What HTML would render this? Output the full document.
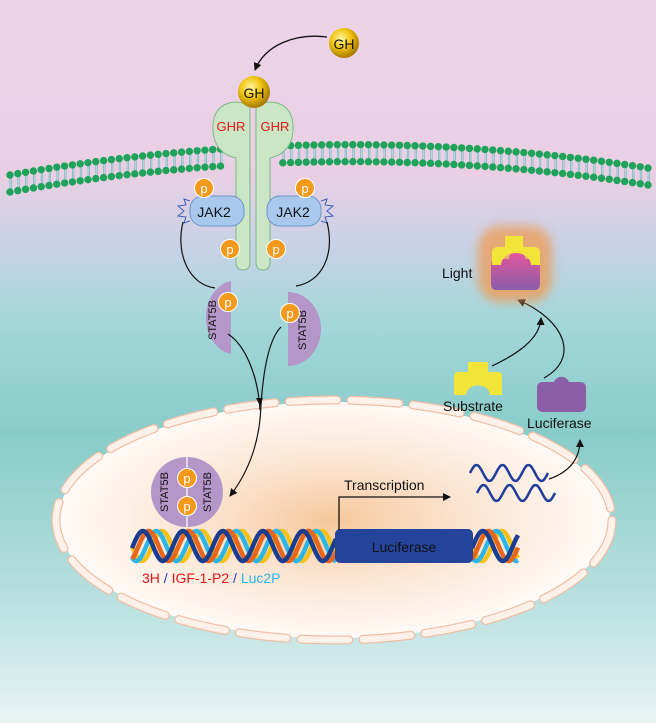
<!DOCTYPE html>
<html><head><meta charset="utf-8"><style>
html,body{margin:0;padding:0}
body{width:656px;height:723px;overflow:hidden;font-family:"Liberation Sans",sans-serif}
svg text{font-family:"Liberation Sans",sans-serif}
</style></head><body>
<svg id="s" width="656" height="723" viewBox="0 0 656 723" xmlns="http://www.w3.org/2000/svg">
<defs>
<linearGradient id="bg" x1="0" y1="0" x2="0" y2="1">
<stop offset="0" stop-color="#ecd4e6"/>
<stop offset="0.24" stop-color="#eacfe4"/>
<stop offset="0.34" stop-color="#c8d2e6"/>
<stop offset="0.44" stop-color="#a5d7da"/>
<stop offset="0.6" stop-color="#88ccc9"/>
<stop offset="0.82" stop-color="#b6dfde"/>
<stop offset="1" stop-color="#e8f4f4"/>
</linearGradient>
<radialGradient id="nuc" cx="0.5" cy="0.5" r="0.5">
<stop offset="0" stop-color="#f6c89c"/>
<stop offset="0.45" stop-color="#fbe3cf"/>
<stop offset="1" stop-color="#fffaf6"/>
</radialGradient>
<radialGradient id="gold" cx="0.4" cy="0.35" r="0.65">
<stop offset="0" stop-color="#fff6a0"/>
<stop offset="0.5" stop-color="#f1c40f"/>
<stop offset="1" stop-color="#a77a00"/>
</radialGradient>
<radialGradient id="glow" cx="0.5" cy="0.5" r="0.5">
<stop offset="0.6" stop-color="#f09a50"/>
<stop offset="1" stop-color="#f09a50" stop-opacity="0"/>
</radialGradient>
<linearGradient id="lum" x1="0" y1="0" x2="0" y2="1">
<stop offset="0" stop-color="#e8559e"/>
<stop offset="1" stop-color="#8a5ca8"/>
</linearGradient>
<marker id="ah" markerWidth="10" markerHeight="10" refX="7" refY="4" orient="auto" markerUnits="userSpaceOnUse">
<path d="M0,0 L8,4 L0,8 z" fill="#111"/>
</marker>
</defs>
<rect width="656" height="723" fill="url(#bg)"/>

<!-- nucleus -->
<ellipse cx="334" cy="520" rx="276" ry="118" fill="url(#nuc)"/>
<ellipse cx="334" cy="520" rx="278" ry="120" fill="none" stroke="#efbfa6" stroke-width="9" stroke-dasharray="48 14" stroke-linecap="round"/>
<ellipse cx="334" cy="520" rx="278" ry="120" fill="none" stroke="#fdf1ea" stroke-width="6.5" stroke-dasharray="48 14" stroke-linecap="round"/>

<g id="mem"></g>

<!-- receptors -->
<g fill="#cbe6c4" stroke="#7cb88a" stroke-width="1">
<path d="M250,107 C240,98 214,100 213,125 C212,145 222,155 236,158 L236,262 Q236,270 243,270 Q250,270 250,262 Z"/>
<path d="M256,107 C266,98 292,100 293,125 C294,145 284,155 270,158 L270,262 Q270,270 263,270 Q256,270 256,262 Z"/>
</g>
<text x="231" y="131" font-size="13" fill="#e8151b" text-anchor="middle">GHR</text>
<text x="275" y="131" font-size="13" fill="#e8151b" text-anchor="middle">GHR</text>
<circle cx="254" cy="92" r="16" fill="url(#gold)"/>
<text x="254" y="98" font-size="14" text-anchor="middle" fill="#111">GH</text>
<circle cx="344" cy="43" r="15" fill="url(#gold)"/>
<text x="344" y="49" font-size="14" text-anchor="middle" fill="#111">GH</text>
<path d="M327,37 C295,33 265,45 255,70" fill="none" stroke="#111" stroke-width="1.3" marker-end="url(#ah)"/>

<!-- JAK2 -->
<rect x="190" y="196" width="54" height="30" rx="13" fill="#a8c8ee" stroke="#6e93c7"/>
<rect x="267" y="196" width="54" height="30" rx="13" fill="#a8c8ee" stroke="#6e93c7"/>
<text x="214" y="217" font-size="14" text-anchor="middle" fill="#111">JAK2</text>
<text x="293" y="217" font-size="14" text-anchor="middle" fill="#111">JAK2</text>
<path d="M190,201 L184,199 L186,205 L178,206 L184,211 L178,216 L186,217 L184,223 L190,221" fill="none" stroke="#3d5fb8" stroke-width="1"/>
<path d="M321,201 L327,199 L325,205 L333,206 L327,211 L333,216 L325,217 L327,223 L321,221" fill="none" stroke="#3d5fb8" stroke-width="1"/>

<!-- connectors -->
<path d="M183,222 C175,255 190,285 215,288" fill="none" stroke="#111" stroke-width="1.2"/>
<path d="M327,222 C335,255 322,282 296,286" fill="none" stroke="#111" stroke-width="1.2"/>

<!-- STAT5B monomers -->
<path d="M231,281 A30,37 0 0 0 231,354 Z" fill="#b596c8"/>
<path d="M288,292 A33,37 0 0 1 288,366 Z" fill="#b596c8"/>
<text transform="translate(216,320) rotate(-90)" font-size="11" text-anchor="middle" fill="#111">STAT5B</text>
<text transform="translate(306,330) rotate(-90)" font-size="11" text-anchor="middle" fill="#111">STAT5B</text>
<path d="M228,334 C245,345 258,375 260,410" fill="none" stroke="#111" stroke-width="1.2"/>
<path d="M281,327 C268,340 263,375 261,405 C260,440 250,470 230,496" fill="none" stroke="#111" stroke-width="1.2" marker-end="url(#ah)"/>
<path d="M256,398 L263,398 L260,406 Z" fill="#111"/>

<!-- dimer -->
<ellipse cx="187" cy="492" rx="36" ry="35" fill="#b596c8"/>
<line x1="187" y1="457" x2="187" y2="527" stroke="#fff" stroke-width="1.2"/>
<text transform="translate(168,492) rotate(-90)" font-size="11" text-anchor="middle" fill="#111">STAT5B</text>
<text transform="translate(211,492) rotate(-90)" font-size="11" text-anchor="middle" fill="#111">STAT5B</text>

<g id="ps"></g>

<!-- DNA -->
<g id="dna"></g>
<rect x="335" y="529" width="138" height="34" rx="5" fill="#24449c"/>
<text x="404" y="552" font-size="14" text-anchor="middle" fill="#111">Luciferase</text>
<text x="142" y="583" font-size="14"><tspan fill="#e8151b">3H </tspan><tspan fill="#2436d6">/ </tspan><tspan fill="#e8151b">IGF-1-P2</tspan><tspan fill="#2436d6"> / </tspan><tspan fill="#2bb5e8"> Luc2P</tspan></text>

<!-- transcription -->
<path d="M339,530 L339,497 L450,497" fill="none" stroke="#111" stroke-width="1.3" marker-end="url(#ah)"/>
<text x="344" y="490" font-size="14" fill="#111">Transcription</text>
<g id="rna" fill="none" stroke="#1f3d9a" stroke-width="2.5"></g>
<path d="M549,479 C570,472 580,458 580,440" fill="none" stroke="#111" stroke-width="1.2" marker-end="url(#ah)"/>

<!-- substrate / luciferase / light -->
<path d="M468,362 h20 v10 h10 q4,0 4,4 v19 h-12 a10,8 0 0 0 -24,0 h-12 v-19 q0,-4 4,-4 h10 z" fill="#f1e53a"/>
<text x="443" y="411" font-size="14" fill="#111">Substrate</text>
<path d="M537,388 q0,-6 6,-6 h11 a8,8 0 0 1 15,0 h11 q6,0 6,6 v18 q0,6 -6,6 h-37 q-6,0 -6,-6 z" fill="#8c5ea8"/>
<text x="527" y="428" font-size="14" fill="#111">Luciferase</text>
<path d="M492,366 C515,355 540,340 541,318" fill="none" stroke="#111" stroke-width="1.2" marker-end="url(#ah)"/>
<path d="M544,378 C580,358 565,320 518,300" fill="none" stroke="#111" stroke-width="1.2" marker-end="url(#ah)"/>

<rect x="478" y="226" width="74" height="76" rx="22" fill="#f09a50" opacity="0.75" style="filter:blur(5px)"/>
<path d="M491,265 q0,-6 6,-6 h12 a8,8 0 0 1 16,0 h9 q6,0 6,6 v19 q0,6 -6,6 h-37 q-6,0 -6,-6 z" fill="url(#lum)"/>
<path d="M505,236 h18 v11 h11 q6,0 6,6 v12 h-9 a15,12 0 0 0 -30,0 h-9 v-12 q0,-6 6,-6 h7 z" fill="#f1e53a"/>
<text x="442" y="278" font-size="14" fill="#111">Light</text>
</svg>
<script>
var NS="http://www.w3.org/2000/svg";
function el(t,a,p){var e=document.createElementNS(NS,t);for(var k in a)e.setAttribute(k,a[k]);p.appendChild(e);return e;}
var mem=document.getElementById('mem');
function q(t,p0,p1,p2){return (1-t)*(1-t)*p0+2*(1-t)*t*p1+t*t*p2;}
for(var i=0;i<=82;i++){var t=i/82;
 var x=q(t,10,330,648), yt=q(t,175,118,168), yb=yt+17;
 if(x>228&&x<278)continue;
 el('line',{x1:x,y1:yt,x2:x,y2:yb,stroke:'#6fc2c0','stroke-width':0.8},mem);
 el('line',{x1:x+1.5,y1:yt,x2:x+1.5,y2:yb,stroke:'#6fc2c0','stroke-width':0.8},mem);
 el('circle',{cx:x,cy:yt,r:3.7,fill:'#1fa35a'},mem);
 el('circle',{cx:x,cy:yb,r:3.7,fill:'#1fa35a'},mem);
}
var ps=document.getElementById('ps');
[[204,188],[305,188],[230,249],[276,249],[228,302],[290,313],[187,478],[187,506]].forEach(function(c){
 el('circle',{cx:c[0],cy:c[1],r:9.5,fill:'#f39a1d',stroke:'#fff','stroke-width':1},ps);
 var t=el('text',{x:c[0],y:c[1]+5,'font-size':13,'text-anchor':'middle',fill:'#fff'},ps);t.textContent='p';
});
var dna=document.getElementById('dna');
var cols=[['#f6c21a',0],['#2bb5e8',0.9],['#e8651c',2.1],['#1b3d8f',3.0]];
function strand(x0,x1,col,ph){var d='';for(var x=x0;x<=x1;x+=1){var y=546+15*Math.sin((x-x0)/40*2*Math.PI+ph);d+=(x==x0?'M':'L')+x+','+y.toFixed(1);}
 el('path',{d:d,fill:'none',stroke:col,'stroke-width':4.5},dna);}
cols.forEach(function(c){strand(132,336,c[0],c[1]);strand(472,518,c[0],c[1]);});
var rna=document.getElementById('rna');
function wave(x0,y0){var d='';for(var x=0;x<=78;x++){var y=y0-8*Math.sin(x/26*2*Math.PI);d+=(x==0?'M':'L')+(x0+x)+','+y.toFixed(1);}el('path',{d:d},rna);}
wave(470,473);wave(477,493);
</script>
</body></html>
